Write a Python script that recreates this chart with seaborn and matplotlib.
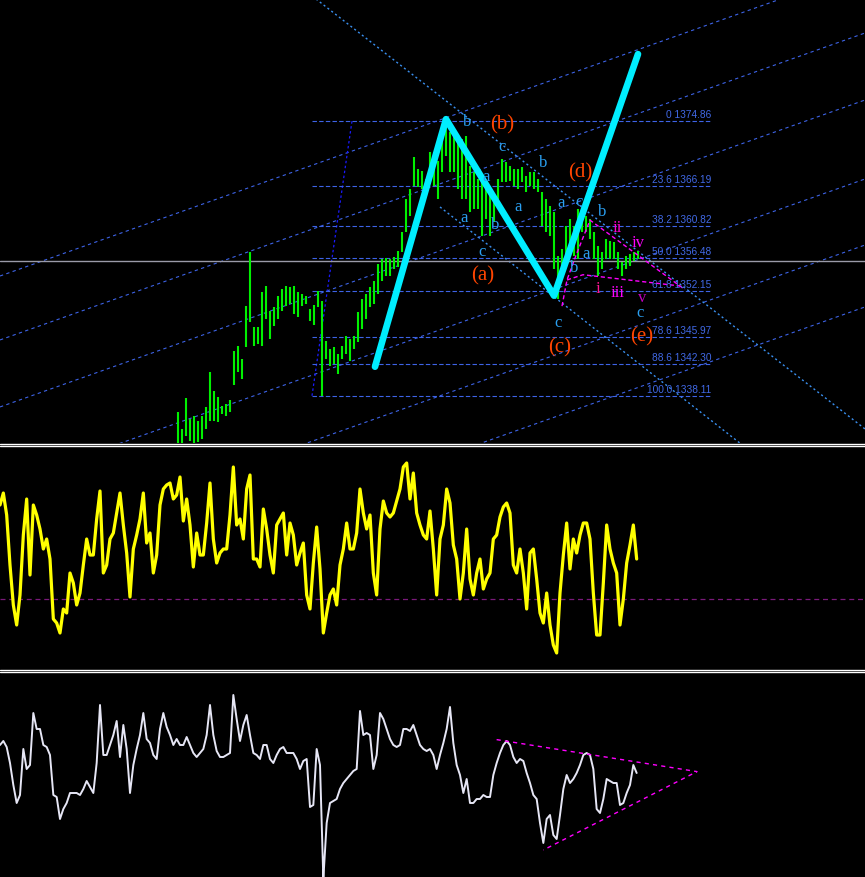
import numpy as np
import pandas as pd
import seaborn as sns
import matplotlib.pyplot as plt
from matplotlib.lines import Line2D

# price bars (high / low), every second bar, first bar = bar 89
bar_high = [1336.0, 1333.7, 1337.8, 1335.0, 1335.4, 1334.8, 1335.4, 1336.6, 1341.3, 1338.8,
            1338.0, 1336.8, 1337.0, 1337.6, 1344.1, 1344.8, 1343.0, 1350.1, 1357.4, 1347.3,
            1347.3, 1352.0, 1352.8, 1349.5, 1350.0, 1351.5, 1352.4, 1352.8, 1352.7, 1352.8,
            1352.0, 1351.7, 1351.5, 1349.7, 1350.3, 1352.1, 1350.8, 1345.4, 1344.4, 1344.6,
            1343.7, 1344.8, 1346.1, 1345.7, 1346.1, 1349.3, 1351.1, 1351.7, 1352.7, 1353.5,
            1355.7, 1356.4, 1356.5, 1356.4, 1356.7, 1357.5, 1360.0, 1364.4, 1365.8, 1370.1,
            1368.4, 1368.2, 1367.1, 1370.7, 1370.7, 1369.5, 1372.9, 1374.9, 1373.4, 1372.9,
            1372.2, 1372.5, 1372.9, 1368.8, 1368.0, 1367.1, 1367.5, 1365.8, 1365.4, 1364.4,
            1367.1, 1369.8, 1369.4, 1368.8, 1368.4, 1368.4, 1368.7, 1367.5, 1368.0, 1368.0,
            1367.1, 1365.4, 1364.4, 1363.5, 1362.7, 1356.8, 1357.8, 1360.8, 1361.8, 1360.8,
            1363.1, 1361.4, 1362.2, 1361.8, 1360.0, 1358.2, 1357.4, 1359.1, 1358.8, 1358.7,
            1357.4, 1356.0, 1356.8, 1357.1, 1357.4, 1357.5]
bar_low = [1331.3, 1331.3, 1332.7, 1332.1, 1331.7, 1331.9, 1332.3, 1333.7, 1334.8, 1334.8,
           1334.6, 1335.7, 1335.4, 1336.0, 1339.6, 1341.3, 1340.4, 1344.6, 1348.0, 1344.8,
           1345.0, 1344.8, 1348.4, 1345.7, 1347.5, 1348.4, 1349.5, 1350.1, 1350.4, 1349.1,
           1348.7, 1350.1, 1350.4, 1348.1, 1347.6, 1350.0, 1338.1, 1343.0, 1342.1, 1342.4,
           1341.0, 1343.0, 1343.7, 1342.8, 1344.4, 1345.3, 1347.1, 1348.4, 1350.0, 1350.4,
           1351.7, 1353.5, 1354.1, 1354.1, 1355.1, 1355.3, 1357.4, 1360.0, 1362.2, 1366.2,
           1366.0, 1365.8, 1364.8, 1367.1, 1366.2, 1364.4, 1368.0, 1370.2, 1368.0, 1368.0,
           1365.8, 1364.4, 1364.4, 1362.7, 1363.1, 1363.1, 1359.5, 1361.8, 1359.5, 1361.4,
           1364.4, 1366.7, 1366.7, 1366.8, 1366.2, 1365.8, 1366.7, 1365.4, 1366.2, 1365.8,
           1365.4, 1360.8, 1360.0, 1359.5, 1355.1, 1351.1, 1354.1, 1356.8, 1357.8, 1356.8,
           1356.4, 1360.0, 1360.0, 1359.1, 1356.4, 1354.1, 1355.1, 1356.4, 1356.4, 1356.4,
           1355.1, 1354.1, 1355.1, 1355.5, 1356.1, 1356.4]

# oscillators (yellow with level 20, white), one reading every 5/3 bar
osc_yellow = [67, 73, 62, 37, 17, 7, 22, 52, 70, 32,
              67, 62, 55, 45, 50, 40, 10, 8, 3, 15,
              13, 33, 28, 17, 23, 37, 50, 42, 42, 60,
              74, 33, 37, 50, 53, 63, 73, 57, 43, 21,
              45, 52, 60, 73, 48, 53, 33, 42, 67, 75,
              77, 78, 70, 72, 81, 59, 70, 57, 36, 53,
              42, 42, 58, 78, 50, 38, 43, 45, 45, 62,
              86, 57, 60, 50, 75, 82, 40, 40, 36, 65,
              55, 42, 33, 57, 60, 63, 42, 58, 52, 37,
              43, 48, 22, 15, 38, 56, 35, 3, 13, 22,
              25, 17, 37, 45, 58, 45, 45, 53, 75, 63,
              55, 62, 33, 22, 55, 69, 63, 61, 63, 69,
              75, 86, 88, 70, 83, 63, 57, 52, 50, 64,
              45, 22, 50, 57, 75,
              68, 47, 40, 20, 33, 55, 30, 22, 33, 40,
              25, 30, 33, 50, 52, 61, 66, 68, 63, 37,
              33, 45, 33, 15, 43, 45, 30, 13, 8, 23,
              7, -3, -7, 23, 42, 58, 35, 50, 43, 52,
              58, 58, 50, 23, 2, 2, 28, 57, 45, 38,
              33, 7, 20, 38, 47, 57, 40]
osc_white = [62, 64, 61, 53, 42, 33, 37, 60, 50, 52,
             78, 70, 70, 62, 61, 57, 37, 36, 25, 30,
             33, 38, 38, 38, 37, 40, 44, 41, 38, 53,
             82, 57, 57, 62, 67, 74, 56, 72, 60, 38,
             52, 60, 67, 78, 65, 63, 57, 55, 70, 78,
             71, 67, 62, 65, 62, 62, 66, 62, 58, 56,
             58, 60, 67, 82, 67, 59, 56, 56, 57, 58,
             87, 75, 64, 72, 77, 67, 58, 57, 55, 62,
             62, 55, 53, 57, 60, 61, 58, 58, 58, 55,
             50, 54, 55, 31, 32, 60, 52, -5, 23, 33,
             34, 35, 40, 43, 45, 47, 49, 50, 79, 67,
             68, 67, 50, 57, 78, 75, 70, 65, 62, 61,
             62, 70, 70, 69, 72, 67, 62, 60, 59, 60,
             57, 50, 57, 63, 70,
             81, 63, 52, 47, 38, 45, 33, 33, 35, 35,
             37, 36, 36, 47, 53, 58, 62, 64, 62, 56,
             53, 55, 54, 48, 43, 37, 35, 23, 13, 25,
             27, 17, 15, 27, 40, 47, 43, 45, 48, 52,
             57, 58, 57, 50, 30, 28, 35, 45, 44, 43,
             43, 32, 33, 38, 42, 52, 48]
yellow_level = 20

# fibonacci retracement
fib_pct = ['0', '23.6', '38.2', '50.0', '61.8', '78.6', '88.6', '100.0']
fib_price = [1374.86, 1366.19, 1360.82, 1356.48, 1352.15, 1345.97, 1342.30, 1338.11]

# zigzag wave line
zig_bar = [187.5, 223, 277, 319]
zig_price = [1342.0, 1375.1, 1351.5, 1383.8]

# parallel channel lines: price at bar 0 and common slope (price per bar)
chan_start = [1354.13, 1345.58, 1336.62, 1326.06, 1317.23, 1308.95]
chan_slope = 0.0949

# wave labels
wave_text = ['(a)', '(b)', '(c)', '(d)', '(e)']
wave_bar = [241.5, 251, 280, 290, 321]
wave_price = [1354.27, 1374.46, 1344.64, 1368.04, 1346.11]
sub_text = ['b', 'c', 'a', 'b', 'a', 'b', 'a', 'c', 'a', 'c', 'b', 'a', 'b', 'c', 'c']
sub_bar = [233.5, 251, 243, 271.5, 232, 247.5, 259, 241, 280.5, 289.5, 301, 293, 287, 279, 320]
sub_price = [1374.86, 1371.52, 1367.51, 1369.38, 1362.02, 1361.09, 1363.49, 1357.48,
             1364.03, 1364.16, 1362.83, 1357.21, 1355.34, 1347.99, 1349.32]
roman_text = ['i', 'ii', 'iii', 'iv', 'v']
roman_bar = [299, 308.5, 309, 319, 321]
roman_price = [1352.53, 1360.69, 1351.99, 1358.68, 1351.33]

sns.set_theme(style='dark', rc={'axes.facecolor': 'black', 'figure.facecolor': 'black'})
plt.rcParams['font.family'] = ['DejaVu Sans']

H = 878
XMAX = 432.5
fig = plt.figure(figsize=(8.65, 8.78), dpi=100, facecolor='black')


def panel(top, bottom):
    a = fig.add_axes([0, 1 - bottom / H, 1, (bottom - top) / H])
    a.set_facecolor('black')
    a.set_xlim(0, XMAX)
    return a


ax = panel(0, 444)
ax_y = panel(448, 670)
ax_w = panel(674, 878)

# ---- main price panel
ax.set_ylim(1331.8, 1391.17)
blue = '#3d63e6'
xs = np.array([0, XMAX])
for p0 in chan_start:
    ax.plot(xs, p0 + chan_slope * xs, color=blue, lw=0.8, ls=(0, (3, 3)))

ax.plot([158, 432.5], [1391.17, 1333.68], color='#3a90f0', lw=1.0, ls=(0, (1.5, 2)))
ax.plot([220, 370.5], [1363.36, 1331.67], color='#3a90f0', lw=1.0, ls=(0, (1.5, 2)))
ax.plot([156, 176], [fib_price[-1], fib_price[0]], color='#1a1aff', lw=0.9, ls=(0, (2, 2)))

ax.axhline(1356.14, color='#9a9aa8', lw=1)

for pct, pr in zip(fib_pct, fib_price):
    ax.plot([156, 356], [pr, pr], color=blue, lw=0.8, ls=(0, (4, 2)))
    ax.text(355.5, pr + 0.3, f'{pct} {pr:.2f}', color='#4169e6', fontsize=7.3,
            family='Liberation Sans', ha='right', va='bottom')

bx = 89 + 2 * np.arange(len(bar_high))
ax.vlines(bx, bar_low, bar_high, color='#00f000', lw=1.5)

pink = '#ff00ff'
ax.plot([281, 283.5, 288, 295, 342.5], [1350.1, 1353.6, 1356.9, 1361.6, 1352.3],
        color=pink, lw=1, ls=(0, (3, 2)))
ax.plot([283.5, 291.5, 340], [1353.6, 1354.3, 1352.8], color=pink, lw=1, ls=(0, (3, 2)))

zig = pd.DataFrame({'bar': zig_bar, 'price': zig_price})
sns.lineplot(data=zig, x='bar', y='price', ax=ax, sort=False, estimator=None,
             color='#00eeff', lw=4.8, solid_capstyle='round', solid_joinstyle='round')

for t, b, p in zip(wave_text, wave_bar, wave_price):
    ax.text(b, p, t, color='#ff4500', fontsize=15, family='Liberation Serif',
            ha='center', va='center')
for t, b, p in zip(sub_text, sub_bar, sub_price):
    ax.text(b, p, t, color='#2a9ff0', fontsize=12, family='Liberation Serif',
            ha='center', va='center')
roman_col = ['#ff1493', '#ff00d0', '#ff00ff', '#ff00ff', '#c000c0']
for t, b, p, c in zip(roman_text, roman_bar, roman_price, roman_col):
    ax.text(b, p, t, color=c, fontsize=12, family='Liberation Serif',
            ha='center', va='center')

# ---- yellow oscillator
ax_y.set_ylim(-15, 96)
ox = np.arange(len(osc_yellow)) * 5 / 3
ax_y.axhline(yellow_level, color='#7a1a7a', lw=0.9, ls=(0, (4, 3)))
sns.lineplot(x=ox, y=osc_yellow, ax=ax_y, estimator=None, color='#ffff00', lw=2.3)

# ---- white oscillator
ax_w.set_ylim(-4, 98)
sns.lineplot(x=ox, y=osc_white, ax=ax_w, estimator=None, color='#e6e6f5', lw=1.4)
ax_w.plot([248.3, 348.5, 271.7], [64.7, 48.7, 9.5], color=pink, lw=1, ls=(0, (3, 3)))

for a in (ax, ax_y, ax_w):
    a.set_xlim(0, XMAX)
    a.axis('off')

for y in (445, 447, 671, 673):
    fig.add_artist(Line2D([0, 1], [1 - y / H] * 2, color='white', lw=1))

fig.savefig('out.png', dpi=100, facecolor='black')
